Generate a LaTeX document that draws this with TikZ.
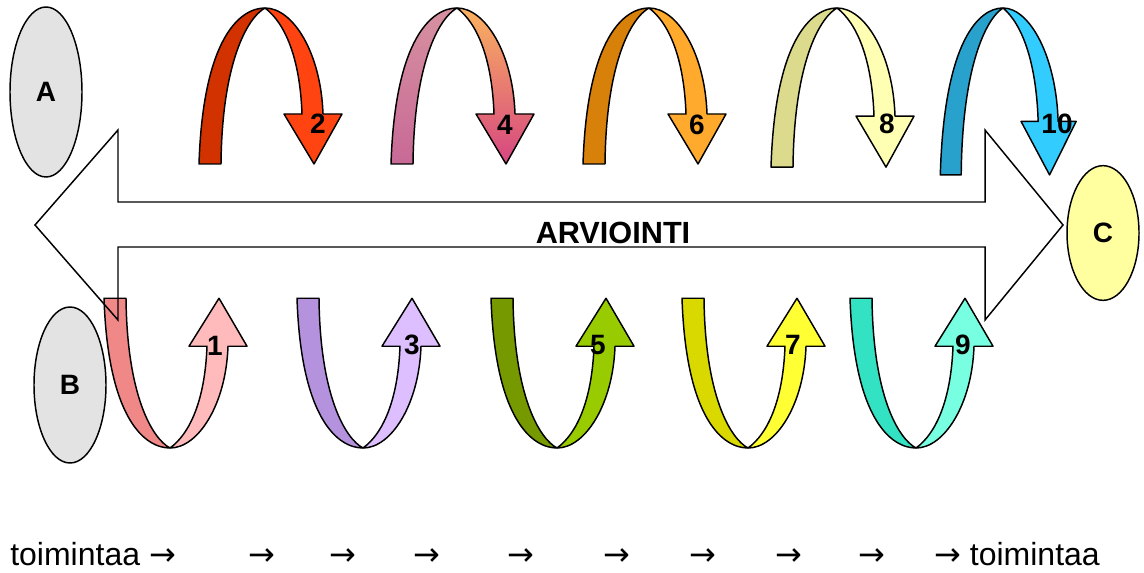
\documentclass[tikz,border=0pt]{standalone}
\usepackage{fontspec}
\setmainfont{Liberation Sans}
\newfontfamily\arrowfont{DejaVu Sans}
\usetikzlibrary{shapes.geometric}

\definecolor{ovalgrey}{RGB}{227,227,227}
\definecolor{ovalyellow}{RGB}{255,255,160}
\definecolor{darkone}{RGB}{240,136,136}
\definecolor{lightone}{RGB}{255,187,187}
\definecolor{darktwo}{RGB}{210,50,0}
\definecolor{lighttwo}{RGB}{255,68,17}
\definecolor{darkthree}{RGB}{181,146,222}
\definecolor{lightthree}{RGB}{221,190,255}
\definecolor{darkfive}{RGB}{119,153,0}
\definecolor{lightfive}{RGB}{153,204,0}
\definecolor{darksix}{RGB}{215,128,10}
\definecolor{lightsix}{RGB}{255,170,45}
\definecolor{darkseven}{RGB}{217,217,0}
\definecolor{lightseven}{RGB}{255,255,51}
\definecolor{darkeight}{RGB}{220,218,140}
\definecolor{lighteight}{RGB}{255,255,180}
\definecolor{darknine}{RGB}{51,226,194}
\definecolor{lightnine}{RGB}{120,255,225}
\definecolor{darkten}{RGB}{40,162,204}
\definecolor{lightten}{RGB}{51,204,255}

\tikzset{
  band/.style={draw=black,line width=1.1pt,line join=round},
  oval/.style={ellipse,draw=black,line width=1.1pt,minimum width=54pt,inner sep=0pt,
    font=\bfseries\fontsize{21}{21}\selectfont},
  num/.style={inner sep=0pt,font=\bfseries\fontsize{21}{21}\selectfont},
  caption/.style={inner sep=0pt,font=\fontsize{24}{24}\selectfont}
}

% arrow sign for the bottom line
\newcommand{\bigto}{{\arrowfont →}}

% twisted ribbon arrow, seam of the twist at the local origin
\newcommand{\twistarrow}[3]{%
  \begin{scope}[#1]
    \draw[band,#2] (0,0) .. controls (-25,0) and (-62,30) .. (-66,156) -- (-44,156)
      .. controls (-43,55) and (-18,10) .. (0,0) -- cycle;
    \draw[band,#3] (0,0) .. controls (28,0) and (56,45) .. (58,106) -- (77,106) -- (49,156)
      -- (19,106) -- (37,106) .. controls (35,50) and (20,15) .. (0,0) -- cycle;
  \end{scope}}

\begin{document}
\begin{tikzpicture}[x=0.75pt,y=0.75pt,yscale=-1,xscale=1]
\useasboundingbox (0,0) rectangle (1144,573);

%Shape: Ellipses
\node[oval,fill=ovalgrey,minimum height=127.5pt] (A) at (46,92) {A};
\node[oval,fill=ovalgrey,minimum height=117pt] (B) at (70,385) {B};
\node[oval,fill=ovalyellow,minimum height=101pt] (C) at (1103,233) {C};

%Shape: upper arrows
\twistarrow{shift={(265,8)}}{fill=darktwo}{fill=lighttwo}
\twistarrow{shift={(457,8)}}{top color={rgb,255:red,214;green,145;blue,160},middle color={rgb,255:red,214;green,160;blue,180},bottom color={rgb,255:red,200;green,105;blue,150}}{top color={rgb,255:red,250;green,178;blue,95},middle color={rgb,255:red,255;green,232;blue,232},bottom color={rgb,255:red,214;green,70;blue,130}}
\twistarrow{shift={(649,8)}}{fill=darksix}{fill=lightsix}
\twistarrow{shift={(837,8)},yscale=1.02}{fill=darkeight}{fill=lighteight}
\twistarrow{shift={(1003,8)},yscale=1.07,xscale=0.95}{fill=darkten}{fill=lightten}

%Shape: lower arrows
\twistarrow{shift={(170,448)},yscale=-0.96}{fill=darkone}{fill=lightone}
\twistarrow{shift={(363,448)},yscale=-0.96}{fill=darkthree}{fill=lightthree}
\twistarrow{shift={(557,448)},yscale=-0.96}{fill=darkfive}{fill=lightfive}
\twistarrow{shift={(748,448)},yscale=-0.96}{fill=darkseven}{fill=lightseven}
\twistarrow{shift={(916,448)},yscale=-0.96}{fill=darknine}{fill=lightnine}

%Shape: double arrow
\draw[line width=1.1pt,line join=miter] (35,225) -- (118,130) -- (118,202) -- (985,202) -- (985,130)
  -- (1063,225) -- (985,320) -- (985,247) -- (118,247) -- (118,320) -- cycle;

% Text Node
\node[num,font=\bfseries\fontsize{23}{23}\selectfont] (arv) at (613,233) {ARVIOINTI};

% Text Node: numbers
\node[num] (n2) at (318,124) {2};
\node[num] (n4) at (505,125) {4};
\node[num] (n6) at (697,125) {6};
\node[num] (n8) at (887,124) {8};
\node[num] (n10) at (1057,124) {10};
\node[num] (n1) at (215,346) {1};
\node[num] (n3) at (412,345) {3};
\node[num] (n5) at (598,345) {5};
\node[num] (n7) at (793,345) {7};
\node[num] (n9) at (963,345) {9};

% Text Node: bottom line
\node[caption,anchor=base west] (tstart) at (10,565) {toimintaa \bigto};
\foreach \x [count=\i] in {262,343,427,521,617,703,789,872}
  \node[caption,anchor=base] (ar\i) at (\x,565) {\bigto};
\node[caption,anchor=base east] (tend) at (1100,565) {\bigto\ toimintaa};

\end{tikzpicture}
\end{document}
